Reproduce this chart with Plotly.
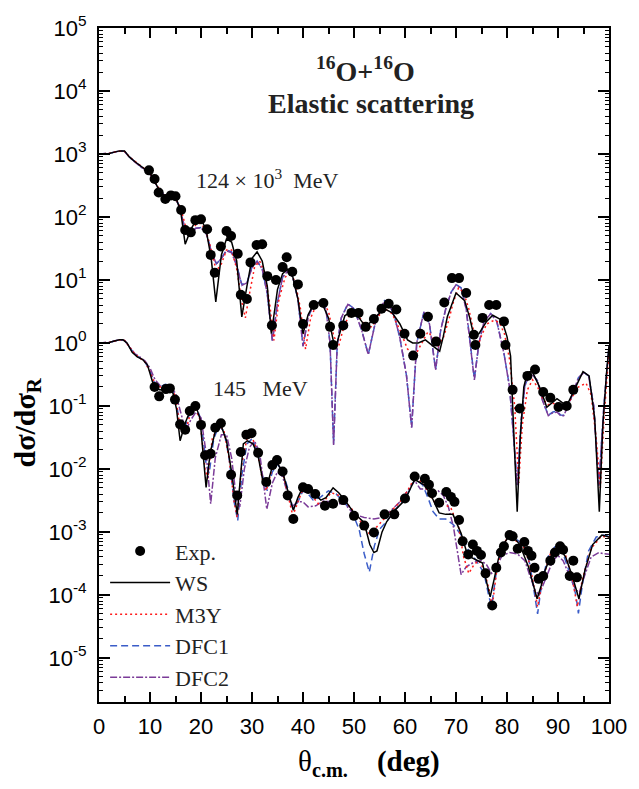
import plotly.graph_objects as go

# ---------------- 124 MeV (x10^3) set ----------------
theta_exp_hi = [9.8, 10.9, 11.7, 13.0, 14.1, 15.0, 16.1, 16.9, 18.0, 18.9, 20.0, 21.2, 21.9, 22.7,
                23.9, 25.0, 25.9, 27.2, 27.8, 29.0, 29.7, 30.9, 32.0, 33.0, 33.9, 34.7, 36.0, 36.8,
                37.9, 39.0, 40.0, 42.1, 44.0, 45.3, 45.9, 47.9, 49.5, 50.9, 52.3, 53.9, 55.4, 56.8,
                58.3, 59.9, 61.6, 63.0, 64.5, 66.1, 67.7, 69.2, 70.6, 72.0, 73.5, 73.8, 75.2, 76.5,
                77.9, 79.4, 79.7, 81.1, 82.5, 84.0, 85.5, 87.1, 88.5, 90.1, 91.7, 93.0]
sig_exp_hi = [550, 400, 245, 193, 220, 213, 129, 62, 57, 89, 92, 64, 25, 13,
              34, 60, 50, 26, 5.8, 5.0, 19, 36, 37, 11.5, 1.9, 10, 16, 23,
              13.5, 8.5, 2.0, 4.0, 4.3, 1.8, 0.93, 1.9, 3.0, 3.0, 1.8, 2.4, 3.5, 4.2,
              3.4, 1.4, 0.63, 1.4, 2.6, 1.05, 4.4, 10.7, 10.7, 6.2, 1.35, 0.93, 2.5, 4.0,
              4.0, 2.2, 0.93, 0.18, 0.091, 0.30, 0.38, 0.166, 0.135, 0.096, 0.10, 0.18]

theta_ws_hi = [0, 1, 2, 3, 4, 5, 6, 7, 8, 9, 10, 11, 12, 13, 14, 15, 16, 16.9, 18, 19, 20, 21, 22,
               22.9, 24, 25, 26, 27, 28, 29, 30, 31, 32, 33, 33.8, 35, 36, 37, 38, 39, 40, 41, 42,
               43.6, 45, 46.3, 47.5, 48.2, 49.5, 51, 52.3, 54, 55.9, 57.5, 59, 60.5, 61.5, 62.6,
               64, 65.5, 66.8, 67.5, 68.3, 70.0, 71.7, 72.7, 73.5, 74.5, 76, 77.2, 79, 80, 80.7,
               81.4, 82.0, 82.6, 83.3, 84.0, 84.9, 86.5, 87.8, 89.8, 91.7, 93.0, 94.9, 96.1, 97.2,
               98.1, 98.8, 99.5, 100]
sig_ws_hi = [1000, 1000, 1020, 1070, 1120, 1120, 890, 760, 660, 575, 500, 355, 250, 210, 215, 210,
             126, 37, 63, 89, 93, 63, 22, 4.5, 25, 45, 40, 20, 2.6, 7.9, 22, 28, 20, 7.9, 1.4, 7.1,
             12.6, 14.8, 11.2, 5.0, 1.4, 2.8, 4.0, 4.5, 2.5, 0.79, 1.8, 2.7, 3.2, 2.5, 1.8, 2.5,
             3.5, 3.0, 2.0, 1.12, 1.0, 1.0, 1.12, 0.89, 0.74, 1.26, 2.6, 6.2, 4.7, 2.5, 1.3, 1.4,
             2.2, 2.75, 2.3, 1.26, 0.62, 0.028, 0.0021, 0.032, 0.20, 0.34, 0.36, 0.19, 0.095,
             0.13, 0.10, 0.166, 0.35, 0.30, 0.063, 0.0021, 0.05, 0.32, 0.89]

theta_m3y_hi = [0, 1, 2, 3, 4, 5, 6, 7, 8, 9, 10, 11, 12, 13, 14, 15, 16, 17, 18, 19, 20, 21, 22,
                23, 24, 25, 26, 27, 28, 28.7, 29.5, 30.5, 31.5, 32.5, 33.5, 34.3, 35.3, 36.5, 37.5,
                38.5, 39.5, 40.5, 41.5, 42.5, 44, 45, 46, 47, 48, 49, 50, 51, 52.3, 53.5, 55, 56.3,
                57.5, 59, 60.5, 62, 63, 64.5, 65.5, 66.5, 67.5, 68.5, 69.5, 70.5, 71.5, 72.5, 73.5,
                74.2, 75, 76, 77.5, 78.5, 79.5, 80.5, 81.5, 82.3, 83, 84, 85, 86, 87, 88, 89, 90,
                91, 92, 93, 94, 95.5, 96.5, 97.5, 98.3, 99, 100]
sig_m3y_hi = [1000, 1000, 1020, 1070, 1110, 1100, 900, 770, 660, 570, 500, 360, 260, 215, 205, 200,
              140, 70, 62, 75, 80, 60, 30, 14, 18, 30, 30, 15, 4.5, 2.5, 6, 16, 20, 13, 4, 1.1, 5,
              11, 13.5, 9, 3.5, 0.8, 2.5, 3.8, 4.2, 3.2, 1.3, 0.9, 1.8, 2.7, 3.0, 2.6, 1.8, 1.8,
              2.8, 3.4, 2.9, 1.6, 0.8, 0.63, 0.9, 1.5, 1.2, 0.9, 1.2, 2.2, 4.5, 7.5, 6.3, 3.5,
              1.5, 0.87, 1.3, 2.0, 2.3, 2.1, 1.4, 0.55, 0.1, 0.006, 0.05, 0.18, 0.26, 0.2, 0.13,
              0.105, 0.11, 0.105, 0.1, 0.11, 0.15, 0.2, 0.23, 0.15, 0.03, 0.005, 0.06, 0.75]

theta_dfc1_hi = [0, 1, 2, 3, 4, 5, 6, 7, 8, 9, 10, 11, 12, 13, 14, 15, 16, 17, 18, 19, 20, 21, 22,
                 23, 24, 25, 26, 27, 28, 29, 30, 31, 32, 33, 34, 35, 36, 37, 38, 39, 40, 41, 42,
                 43.5, 44.5, 45.3, 46, 46.7, 47.5, 48.8, 50, 51.5, 52.8, 54, 55, 56, 57, 58, 59,
                 60.3, 61.3, 62.3, 63.7, 64.8, 66, 67, 68, 69, 70, 71, 72, 73, 73.6, 74.5, 75.5,
                 76.8, 78, 79.4, 80.5, 81.2, 82, 82.8, 83.5, 84.6, 86, 87, 88.1, 89, 89.8, 90.5,
                 91.1, 92, 93, 94, 95.1, 96, 97, 98, 99, 100]
sig_dfc1_hi = [1000, 1000, 1020, 1070, 1120, 1100, 890, 760, 650, 560, 480, 350, 260, 220, 210,
               200, 135, 56, 60, 66, 68, 56, 30, 18, 22, 30, 28, 17, 8.5, 9, 16, 20, 15, 6, 1.1,
               4.5, 11, 14, 11, 5, 0.9, 2.5, 4.0, 4.6, 3.5, 1.0, 0.025, 0.9, 2.5, 4.2, 3.5, 1.6,
               0.66, 1.8, 3.5, 4.7, 4.0, 2.5, 1.2, 0.3, 0.046, 1.0, 3.1, 2.0, 0.38, 1.6, 3.5, 6.3,
               8.5, 7.5, 3.5, 0.6, 0.27, 1.0, 2.2, 2.95, 2.2, 0.69, 0.2, 0.04, 0.0055, 0.06, 0.21,
               0.35, 0.25, 0.12, 0.071, 0.08, 0.083, 0.072, 0.071, 0.1, 0.17, 0.28, 0.34, 0.3,
               0.1, 0.0055, 0.1, 0.89]

theta_dfc2_hi = [0, 1, 2, 3, 4, 5, 6, 7, 8, 9, 10, 11, 12, 13, 14, 15, 16, 17, 18, 19, 20, 21, 22,
                 23, 24, 25, 26, 27, 28, 29, 30, 31, 32, 33, 34, 35, 36, 37, 38, 39, 40, 41, 42,
                 43.5, 44.5, 45.3, 46, 46.7, 47.5, 48.8, 50, 51.5, 52.8, 54, 55, 56, 57, 58, 59,
                 60.3, 61.3, 62.3, 63.7, 64.8, 66, 67, 68, 69, 70, 71, 72, 73, 73.6, 74.5, 75.5,
                 76.8, 78, 79.4, 80.5, 81.2, 82, 82.8, 83.5, 84.6, 86, 87, 88.1, 89, 89.8, 90.5,
                 91.1, 92, 93, 94, 95.1, 96, 97, 98, 99, 100]
sig_dfc2_hi = [1000, 1000, 1020, 1070, 1110, 1100, 880, 750, 650, 560, 480, 345, 255, 215, 205,
               195, 130, 54, 58, 66, 67, 55, 29, 18, 22, 29, 27, 17, 8.2, 9, 15.5, 19.5, 15, 6,
               1.05, 4.4, 11, 14, 11, 5, 0.88, 2.5, 4.0, 4.5, 3.4, 1.0, 0.024, 0.9, 2.5, 4.1, 3.5,
               1.6, 0.65, 1.8, 3.5, 4.6, 4.0, 2.5, 1.2, 0.3, 0.045, 1.0, 3.1, 2.0, 0.37, 1.6, 3.5,
               6.2, 8.4, 7.4, 3.4, 0.6, 0.26, 1.0, 2.2, 2.9, 2.2, 0.68, 0.2, 0.04, 0.0054, 0.06,
               0.21, 0.34, 0.25, 0.12, 0.07, 0.078, 0.08, 0.07, 0.07, 0.1, 0.17, 0.28, 0.34, 0.3,
               0.1, 0.0054, 0.1, 0.88]

# ---------------- 145 MeV set ----------------
theta_exp_lo = [10.9, 11.8, 13.1, 13.9, 14.9, 15.9, 16.9, 17.8, 18.9, 20.0, 20.8, 21.9, 22.8, 23.9,
                25.9, 27.1, 27.8, 28.9, 29.9, 31.2, 32.8, 34.0, 34.9, 36.0, 37.0, 38.1, 40.0, 41.0,
                42.4, 44.3, 45.9, 47.9, 50.0, 52.0, 53.9, 56.0, 57.9, 60.0, 61.9, 63.9, 64.7, 65.3,
                66.7, 68.1, 69.0, 69.7, 70.6, 71.3, 72.4, 73.3, 74.1, 74.9, 75.8, 77.1, 77.9, 78.8,
                79.4, 80.5, 81.1, 82.1, 83.4, 84.1, 84.8, 85.4, 86.2, 87.1, 88.5, 89.4, 90.4, 91.0,
                92.3, 93.0, 93.7]
sig_exp_lo = [0.20, 0.142, 0.185, 0.19, 0.126, 0.051, 0.042, 0.083, 0.10, 0.050, 0.0165, 0.0174,
              0.045, 0.053, 0.0081, 0.0038, 0.0186, 0.035, 0.037, 0.018, 0.0062, 0.0115, 0.0138,
              0.0091, 0.0038, 0.0016, 0.0051, 0.0048, 0.0040, 0.0026, 0.0028, 0.0032, 0.0018,
              0.00126, 0.00098, 0.0019, 0.0019, 0.0034, 0.0076, 0.0070, 0.0056, 0.0041, 0.0029,
              0.0043, 0.0036, 0.0030, 0.00155, 0.00071, 0.00044, 0.00063, 0.0005, 0.00043,
              0.00022, 0.000068, 0.00027, 0.00047, 0.00059, 0.00089, 0.00085, 0.00054, 0.00069,
              0.0005, 0.00042, 0.00027, 0.00018, 0.0002, 0.00035, 0.00047, 0.00059, 0.00052,
              0.0002, 0.00035, 0.00019]

theta_ws_lo = [0, 1, 2, 3, 4, 4.7, 5.5, 6.5, 7.5, 8.5, 9.5, 10.5, 11.2, 12, 13, 13.8, 14.5, 15.2,
               15.9, 17, 18, 18.9, 19.8, 20.4, 21.0, 21.8, 22.9, 23.9, 25, 26, 27.1, 28.3, 29.1,
               30.2, 31.2, 32.2, 33, 34, 34.8, 36, 37, 38.1, 39, 40, 41, 42, 43.5, 44.5, 45.9, 47,
               48.2, 50, 52, 53.1, 53.9, 54.5, 55.5, 56.4, 58, 60, 61.9, 63.9, 65, 66.7, 68, 69.4,
               71, 72.3, 73.6, 75.2, 76.0, 76.7, 77.5, 78.3, 79.3, 80.5, 81.5, 82.5, 84.2, 85.2,
               85.9, 86.7, 87.5, 88.5, 90, 91.5, 92.8, 94.1, 95.3, 96.8, 98.6, 100]
sig_ws_lo = [1.0, 1.0, 1.02, 1.07, 1.12, 1.12, 1.0, 0.71, 0.60, 0.55, 0.45, 0.24, 0.19, 0.18, 0.19,
             0.20, 0.16, 0.089, 0.028, 0.056, 0.089, 0.105, 0.063, 0.020, 0.0051, 0.018, 0.043,
             0.050, 0.028, 0.0089, 0.0019, 0.025, 0.028, 0.025, 0.016, 0.006, 0.0056, 0.011,
             0.013, 0.0089, 0.0045, 0.0022, 0.0035, 0.0052, 0.005, 0.0042, 0.0032, 0.0035, 0.005,
             0.0042, 0.0032, 0.002, 0.0014, 0.00063, 0.00047, 0.0005, 0.001, 0.00145, 0.0022,
             0.0032, 0.0068, 0.0055, 0.004, 0.002, 0.0019, 0.0019, 0.00095, 0.00042, 0.00037,
             0.00032, 0.00016, 0.000093, 0.00018, 0.00037, 0.00063, 0.00089, 0.00079, 0.00063,
             0.00028, 0.00014, 0.000087, 0.00014, 0.00025, 0.0004, 0.0006, 0.0004, 0.0002,
             0.000087, 0.00025, 0.00063, 0.00089, 0.00083]

theta_m3y_lo = [0, 1, 2, 3, 4, 5, 6, 7, 8, 9, 10, 11, 12, 13, 14, 15, 16, 16.8, 17.8, 18.9, 19.8,
                20.8, 21.3, 22.2, 23.5, 24.5, 25.5, 26.5, 27.1, 28, 29, 30, 31, 32, 32.8, 33.8,
                35, 36, 37, 38, 39, 40, 41, 42, 43, 44, 45.5, 47, 48.5, 50, 51.5, 52.8, 54, 55.5,
                57, 59, 60.5, 62, 63.5, 64.5, 66, 67.5, 69, 70.5, 71.5, 72.5, 73.5, 74.5, 75.5,
                76.5, 77.1, 78, 79, 80.5, 82, 83.5, 84.5, 85.3, 86, 87, 88.5, 90, 91.5, 92.8, 93.8,
                94.8, 96.5, 98.5, 100]
sig_m3y_lo = [1.0, 1.0, 1.02, 1.07, 1.12, 1.1, 0.86, 0.67, 0.58, 0.5, 0.35, 0.22, 0.2, 0.21, 0.21,
              0.14, 0.04, 0.035, 0.07, 0.095, 0.06, 0.01, 0.007, 0.03, 0.05, 0.04, 0.015, 0.003,
              0.0017, 0.012, 0.03, 0.032, 0.02, 0.007, 0.0045, 0.009, 0.013, 0.009, 0.004, 0.0018,
              0.003, 0.0048, 0.0045, 0.0035, 0.0028, 0.003, 0.0042, 0.0038, 0.0029, 0.0021,
              0.0014, 0.00095, 0.0011, 0.0015, 0.002, 0.003, 0.0045, 0.0075, 0.006, 0.0045,
              0.0028, 0.0028, 0.0024, 0.0012, 0.0004, 0.00022, 0.0003, 0.00035, 0.00025, 0.00012,
              0.000065, 0.00025, 0.0006, 0.00088, 0.0007, 0.00055, 0.0003, 0.00013, 0.000065,
              0.00018, 0.00045, 0.0006, 0.00042, 0.00018, 0.000065, 0.00018, 0.00055, 0.00085,
              0.00083]

theta_dfc1_lo = [0, 1, 2, 3, 4, 5, 6, 7, 8, 9, 10, 11, 12, 13, 14, 15, 16, 17, 18, 19, 20, 21,
                 21.6, 22.5, 23.5, 24.5, 25.5, 26.5, 27.2, 28, 29, 30, 31, 32, 33, 34, 35, 36, 37,
                 38, 39, 40, 41, 42, 43.5, 45, 46.5, 48, 49.5, 51, 52, 53, 54, 55, 56.5, 58, 60,
                 62, 63.5, 64.5, 65.5, 66.7, 68, 69.5, 71, 72.5, 74, 75.5, 76.5, 77, 77.8, 79,
                 80.3, 82, 83.5, 84.5, 85.3, 86, 86.8, 88, 89.5, 91, 92.5, 93.5, 94, 94.8, 96,
                 97.5, 99, 100]
sig_dfc1_lo = [1.0, 1.0, 1.02, 1.07, 1.12, 1.1, 0.85, 0.66, 0.58, 0.5, 0.36, 0.22, 0.2, 0.22, 0.21,
               0.13, 0.045, 0.05, 0.085, 0.1, 0.06, 0.012, 0.0085, 0.03, 0.048, 0.04, 0.015, 0.003,
               0.0015, 0.008, 0.025, 0.03, 0.02, 0.008, 0.0045, 0.009, 0.012, 0.009, 0.005,
               0.0024, 0.003, 0.0045, 0.004, 0.0032, 0.0036, 0.0045, 0.004, 0.003, 0.0022, 0.0011,
               0.00045, 0.00023, 0.0006, 0.0011, 0.0015, 0.0022, 0.0033, 0.007, 0.0055, 0.0035,
               0.0021, 0.0016, 0.0016, 0.0013, 0.0009, 0.0005, 0.00035, 0.00022, 0.00009,
               0.000068, 0.0002, 0.0006, 0.00083, 0.00075, 0.0006, 0.0003, 0.00012, 0.00005,
               0.00015, 0.0004, 0.0006, 0.00045, 0.0002, 0.0001, 0.000051, 0.00015, 0.0005,
               0.00083, 0.00089, 0.00085]

theta_dfc2_lo = [0, 1, 2, 3, 4, 5, 6, 7, 8, 9, 10, 11, 12, 13, 14, 15, 16, 17, 18, 19, 20, 21,
                 21.9, 22.8, 24, 25, 26, 27, 27.6, 28.5, 29.5, 30.5, 31.5, 32.3, 32.9, 34, 35, 36,
                 37, 37.8, 39, 40, 41, 42.5, 44, 45.5, 47, 48.2, 50, 52, 53.9, 55.5, 57, 59, 60.5,
                 61.9, 63, 64, 65, 66.5, 67.5, 68.5, 69.5, 70.5, 71, 72, 73.5, 75, 76, 77, 78, 79,
                 80.5, 82, 83.5, 84.5, 85.5, 86.3, 87.5, 89, 90, 91, 92.5, 93.5, 94.2, 95, 96.5,
                 98, 99, 100]
sig_dfc2_lo = [1.0, 1.0, 1.02, 1.07, 1.12, 1.1, 0.87, 0.68, 0.6, 0.52, 0.4, 0.26, 0.21, 0.2, 0.2,
               0.16, 0.08, 0.04, 0.06, 0.08, 0.065, 0.018, 0.0028, 0.015, 0.035, 0.035, 0.015,
               0.003, 0.0025, 0.01, 0.022, 0.028, 0.018, 0.005, 0.0023, 0.006, 0.009, 0.0075,
               0.004, 0.0025, 0.003, 0.003, 0.0025, 0.0026, 0.0031, 0.003, 0.0028, 0.0028, 0.0019,
               0.0017, 0.0016, 0.0017, 0.0021, 0.003, 0.0045, 0.0065, 0.0048, 0.0048, 0.0045,
               0.0045, 0.0038, 0.0025, 0.0012, 0.0004, 0.00021, 0.00028, 0.00033, 0.00035, 0.0003,
               0.00022, 0.00028, 0.00042, 0.00047, 0.00045, 0.00035, 0.0002, 0.00012, 0.0001,
               0.00018, 0.00035, 0.00042, 0.00035, 0.00018, 0.00012, 0.00011, 0.00018, 0.0004,
               0.00047, 0.00045, 0.00044]

decade_vals = [1e-5, 1e-4, 1e-3, 1e-2, 1e-1, 1e0, 1e1, 1e2, 1e3, 1e4, 1e5]
decade_text = ["10<sup>-5</sup>", "10<sup>-4</sup>", "10<sup>-3</sup>", "10<sup>-2</sup>",
               "10<sup>-1</sup>", "10<sup>0</sup>", "10<sup>1</sup>", "10<sup>2</sup>",
               "10<sup>3</sup>", "10<sup>4</sup>", "10<sup>5</sup>"]

SERIF = "Liberation Serif"
SANS = "Liberation Sans"

# name, hi-energy data, low-energy data, colour, dash pattern, legend rank, drawing order
models = [
    ("DFC1", theta_dfc1_hi, sig_dfc1_hi, theta_dfc1_lo, sig_dfc1_lo, "#3a5cc8", "7px,4px", 4),
    ("DFC2", theta_dfc2_hi, sig_dfc2_hi, theta_dfc2_lo, sig_dfc2_lo, "#7b3b98", "7px,2px,2px,2px", 5),
    ("M3Y", theta_m3y_hi, sig_m3y_hi, theta_m3y_lo, sig_m3y_lo, "#ff1a1a", "2px,3px", 3),
    ("WS", theta_ws_hi, sig_ws_hi, theta_ws_lo, sig_ws_lo, "#000000", "solid", 2),
]

fig = go.Figure()

# model curves; the solid WS line goes on top
for name, xh, yh, xl, yl, color, dash, rank in models:
    for i, (xs, ys) in enumerate(((xh, yh), (xl, yl))):
        fig.add_trace(go.Scatter(
            x=xs, y=ys, mode="lines", name=name, legendgroup=name,
            showlegend=(i == 0), legendrank=rank,
            line=dict(color=color, width=1.5, dash=dash),
        ))

# experimental points
for i, (xs, ys) in enumerate(((theta_exp_hi, sig_exp_hi), (theta_exp_lo, sig_exp_lo))):
    fig.add_trace(go.Scatter(
        x=xs, y=ys, mode="markers", name="Exp.", legendgroup="Exp.",
        showlegend=(i == 0), legendrank=1,
        marker=dict(color="black", size=10, symbol="circle"),
    ))

axis_common = dict(
    showline=True, linecolor="black", linewidth=2, mirror="allticks",
    ticks="inside", tickcolor="black", tickwidth=1.5, showgrid=False, zeroline=False,
    tickfont=dict(family=SANS, size=22, color="black"),
)

fig.update_xaxes(
    range=[0, 100], dtick=10, tick0=0, ticklen=10,
    minor=dict(ticks="inside", ticklen=6, dtick=5, tickcolor="black", tickwidth=1.5, showgrid=False),
    ticklabelstandoff=4,
    **axis_common,
)
fig.update_yaxes(
    type="log", range=[-5.70, 5], tickmode="array", tickvals=decade_vals, ticktext=decade_text,
    ticklen=11,
    minor=dict(ticks="inside", ticklen=4, dtick="D1", tickcolor="black", tickwidth=1, showgrid=False),
    ticklabelstandoff=6,
    **axis_common,
)

annotations = [
    dict(text="<b><sup>16</sup>O+<sup>16</sup>O</b>", x=0.522, y=0.939,
         font=dict(family=SERIF, size=28, color="#222")),
    dict(text="<b>Elastic scattering</b>", x=0.534, y=0.888,
         font=dict(family=SERIF, size=28, color="#222")),
    dict(text="124 × 10<sup>3</sup>  MeV", x=0.330, y=0.776,
         font=dict(family=SERIF, size=22, color="#222")),
    dict(text="145   MeV", x=0.317, y=0.465,
         font=dict(family=SERIF, size=22, color="#222")),
    dict(text="<b>dσ/dσ<sub>R</sub></b>", x=-0.142, y=0.414, textangle=-90,
         font=dict(family=SERIF, size=30, color="black")),
    dict(text="θ<b><sub>c.m.</sub></b>&nbsp;&nbsp;&nbsp;&nbsp;<b>(deg)</b>", x=0.530, y=-0.090,
         font=dict(family=SERIF, size=29, color="black")),
]
for a in annotations:
    a.update(xref="paper", yref="paper", showarrow=False, xanchor="center", yanchor="middle")

fig.update_layout(
    width=639, height=789,
    margin=dict(l=99, r=19, t=16, b=87),
    paper_bgcolor="white", plot_bgcolor="white",
    annotations=annotations,
    legend=dict(
        x=0.012, y=0.255, xanchor="left", yanchor="top",
        bgcolor="rgba(0,0,0,0)", borderwidth=0,
        font=dict(family=SERIF, size=22, color="#222"),
        tracegroupgap=0, itemwidth=60,
    ),
)

fig.write_html("out.html")
